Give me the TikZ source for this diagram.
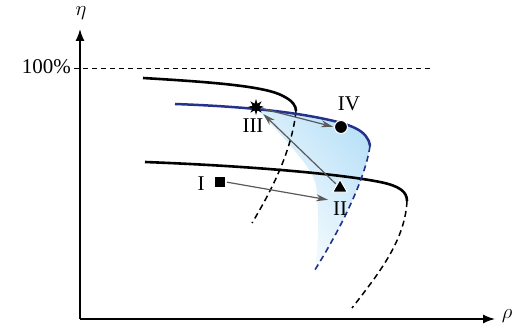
\documentclass[tikz,border=0pt]{standalone}
\usepackage{fontspec}
\setmainfont{Liberation Serif}
\usetikzlibrary{arrows.meta,shapes.geometric}
\definecolor{navy}{RGB}{35,50,140}
\definecolor{arrgray}{RGB}{90,90,90}
\definecolor{shadeblue}{RGB}{188,226,248}
\tikzset{
  axis/.style={line width=1.4pt,-{Latex[length=12pt,width=9pt]}},
  curveblack/.style={line width=2.6pt,black},
  dashblack/.style={line width=1.5pt,black,dash pattern=on 6pt off 4pt},
  curveblue/.style={line width=2.5pt,navy},
  dashblue/.style={line width=1.6pt,navy,dash pattern=on 6pt off 4pt},
  moveArrow/.style={line width=1.2pt,arrgray,-{Stealth[length=12pt,width=7pt]},shorten <=1pt,shorten >=1pt},
  lbl/.style={font=\fontsize{21}{24}\selectfont,inner sep=1pt},
  marker/.style={fill=black,draw=white,line width=1pt,inner sep=0pt}
}
\begin{document}
\begin{tikzpicture}[x=1pt,y=-1pt]
\useasboundingbox (0,0) rectangle (517,331);
% shaded region
\shade[top color=shadeblue,bottom color=white,shading angle=-50]
  (257,109) .. controls (280,110) and (300,113) .. (320,118)
  .. controls (350,124) and (368,130) .. (370,146)
  .. controls (365,180) and (340,230) .. (314,271)
  .. controls (319,250) and (319,210) .. (316,185)
  .. controls (312,170) and (300,155) .. cycle;
% axes
\coordinate (O) at (80,319);
\coordinate (Ytop) at (80,29);
\coordinate (Xend) at (495,319);
\draw[axis] (O) -- (Ytop);
\draw[axis] (O) -- (Xend);
\node[lbl] (eta) at (81,13) {$\eta$};
\node[lbl] (rho) at (507,316) {$\rho$};
% 100% line
\coordinate (t1) at (74,68);
\coordinate (t2) at (430,68);
\draw[line width=0.8pt,dash pattern=on 5pt off 4pt] (t1) -- (t2);
\node[lbl,anchor=east] (hundred) at (72,67) {100\%};
% upper black curve
\coordinate (ua) at (143,78);
\coordinate (ub) at (296,111);
\coordinate (uc) at (252,223);
\draw[curveblack] (ua) .. controls (210,82) and (265,86) .. (283,96) .. controls (293,101) and (296,106) .. (ub);
\draw[dashblack] (ub) .. controls (292,150) and (272,190) .. (uc);
% lower black curve
\coordinate (la) at (145,162);
\coordinate (lb) at (407,201);
\coordinate (lc) at (352,308);
\draw[curveblack] (la) .. controls (250,166) and (340,174) .. (380,182) .. controls (400,186) and (407,192) .. (lb);
\draw[dashblack] (lb) .. controls (405,240) and (380,272) .. (lc);
% blue curve
\coordinate (ba) at (175,104);
\coordinate (bb) at (370,146);
\coordinate (bc) at (313,273);
\draw[curveblue] (ba) .. controls (230,106) and (280,110) .. (320,118) .. controls (350,124) and (368,130) .. (bb);
\draw[dashblue] (bb) .. controls (365,180) and (340,230) .. (bc);
% markers
\node[marker,rectangle,minimum size=11pt] (I) at (220,182) {};
\node[marker,regular polygon,regular polygon sides=3,minimum size=17pt] (II) at (340,188) {};
\node[marker,star,star points=8,star point ratio=2.2,minimum size=16pt,draw=none] (III) at (256,107) {};
\node[marker,circle,minimum size=13pt] (IV) at (341,127) {};
% labels
\node[lbl] (lI) at (201,184) {I};
\node[lbl] (lII) at (340,209) {II};
\node[lbl] (lIII) at (253,126) {III};
\node[lbl] (lIV) at (349,104) {IV};
% arrows
\draw[moveArrow] (I.east) -- (329,200);
\draw[moveArrow] (II.north west) -- (III);
\draw[moveArrow] (III) -- (IV.west);
\end{tikzpicture}
\end{document}
